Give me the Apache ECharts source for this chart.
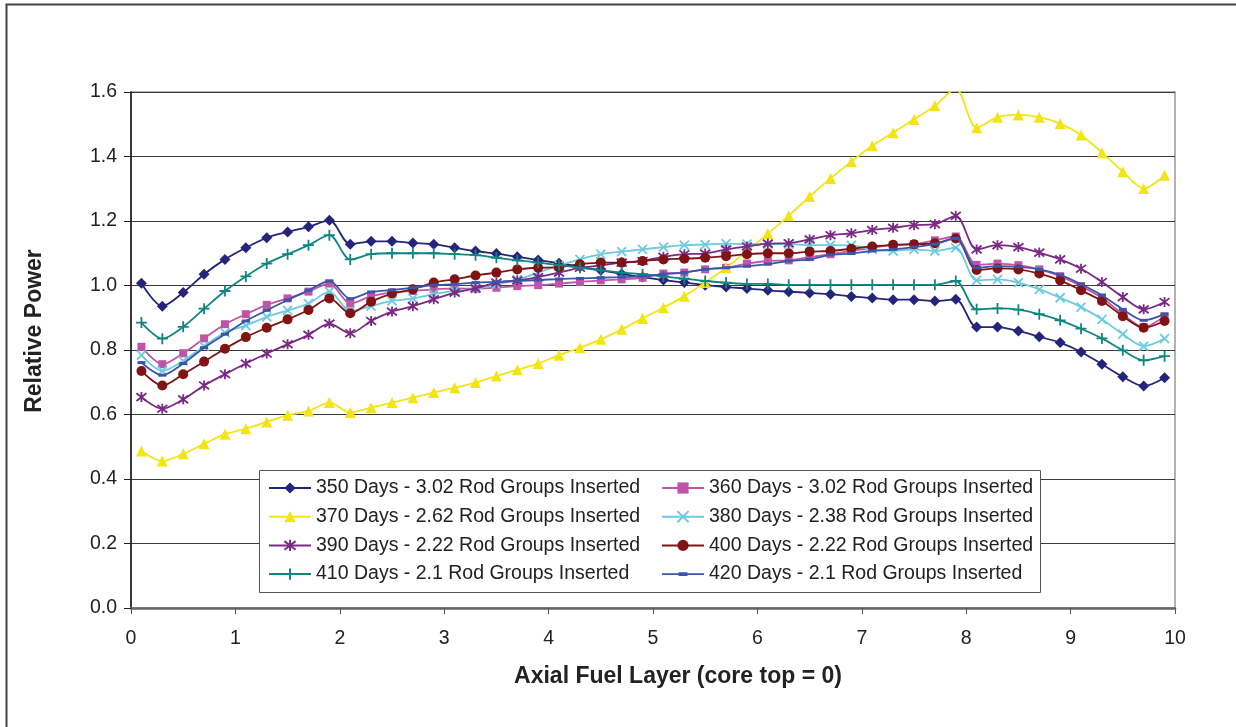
<!DOCTYPE html>
<html>
<head>
<meta charset="utf-8">
<title>Relative Power by Axial Fuel Layer</title>
<script src="https://cdn.jsdelivr.net/npm/echarts/dist/echarts.min.js"></script>
<style>
  html, body { margin: 0; padding: 0; background: #ffffff; }
  #chart { width: 1236px; height: 727px; }
</style>
</head>
<body>
<div id="chart"></div>
<script>
// Axial fuel layer centres (core top = 0)
const layers = [
  0.1, 0.3, 0.5, 0.7, 0.9, 1.1, 1.3, 1.5, 1.7, 1.9,
  2.1, 2.3, 2.5, 2.7, 2.9, 3.1, 3.3, 3.5, 3.7, 3.9,
  4.1, 4.3, 4.5, 4.7, 4.9, 5.1, 5.3, 5.5, 5.7, 5.9,
  6.1, 6.3, 6.5, 6.7, 6.9, 7.1, 7.3, 7.5, 7.7, 7.9,
  8.1, 8.3, 8.5, 8.7, 8.9, 9.1, 9.3, 9.5, 9.7, 9.9
];

// Relative power per layer for each burnup state
const days350 = [
  1.007, 0.936, 0.978, 1.035, 1.081, 1.117, 1.148, 1.166, 1.182, 1.202,
  1.128, 1.137, 1.137, 1.132, 1.128, 1.117, 1.107, 1.099, 1.089, 1.079,
  1.069, 1.058, 1.047, 1.036, 1.026, 1.017, 1.009, 1.001, 0.995, 0.991,
  0.985, 0.981, 0.977, 0.973, 0.966, 0.961, 0.956, 0.956, 0.952, 0.957,
  0.871, 0.871, 0.859, 0.841, 0.823, 0.794, 0.756, 0.717, 0.688, 0.714
];
const days360 = [
  0.810, 0.756, 0.790, 0.836, 0.880, 0.911, 0.940, 0.960, 0.981, 1.006,
  0.944, 0.967, 0.978, 0.983, 0.988, 0.991, 0.990, 0.993, 0.998, 1.001,
  1.006, 1.011, 1.016, 1.019, 1.024, 1.037, 1.040, 1.050, 1.055, 1.068,
  1.076, 1.078, 1.088, 1.097, 1.107, 1.117, 1.125, 1.128, 1.140, 1.152,
  1.064, 1.068, 1.063, 1.050, 1.029, 0.998, 0.962, 0.911, 0.871, 0.905
];
const days370 = [
  0.487, 0.456, 0.478, 0.509, 0.539, 0.556, 0.577, 0.598, 0.611, 0.637,
  0.606, 0.621, 0.637, 0.652, 0.668, 0.683, 0.699, 0.719, 0.739, 0.758,
  0.784, 0.807, 0.833, 0.864, 0.898, 0.931, 0.967, 1.009, 1.055, 1.107,
  1.161, 1.216, 1.276, 1.332, 1.384, 1.433, 1.474, 1.515, 1.557, 1.610,
  1.489, 1.522, 1.529, 1.522, 1.502, 1.467, 1.412, 1.353, 1.301, 1.342
];
const days380 = [
  0.784, 0.735, 0.766, 0.812, 0.854, 0.876, 0.903, 0.923, 0.944, 0.981,
  0.921, 0.936, 0.952, 0.960, 0.973, 0.983, 0.990, 1.003, 1.018, 1.040,
  1.062, 1.081, 1.097, 1.105, 1.112, 1.119, 1.125, 1.127, 1.130, 1.128,
  1.128, 1.128, 1.125, 1.125, 1.124, 1.112, 1.107, 1.112, 1.107, 1.117,
  1.016, 1.019, 1.009, 0.988, 0.962, 0.933, 0.895, 0.849, 0.812, 0.835
];
const days390 = [
  0.654, 0.618, 0.647, 0.690, 0.725, 0.758, 0.789, 0.818, 0.847, 0.882,
  0.852, 0.890, 0.919, 0.936, 0.957, 0.978, 0.991, 1.009, 1.016, 1.026,
  1.040, 1.055, 1.062, 1.071, 1.076, 1.089, 1.097, 1.099, 1.112, 1.121,
  1.130, 1.131, 1.143, 1.156, 1.162, 1.172, 1.179, 1.187, 1.190, 1.216,
  1.112, 1.125, 1.119, 1.102, 1.081, 1.052, 1.011, 0.964, 0.926, 0.949
];
const days400 = [
  0.735, 0.690, 0.725, 0.764, 0.804, 0.840, 0.869, 0.895, 0.924, 0.960,
  0.914, 0.950, 0.975, 0.988, 1.009, 1.019, 1.031, 1.040, 1.050, 1.055,
  1.057, 1.066, 1.071, 1.071, 1.076, 1.081, 1.083, 1.086, 1.091, 1.097,
  1.100, 1.100, 1.105, 1.107, 1.114, 1.121, 1.126, 1.128, 1.131, 1.146,
  1.048, 1.053, 1.050, 1.037, 1.016, 0.985, 0.952, 0.905, 0.869, 0.890
];
const days410 = [
  0.885, 0.835, 0.872, 0.928, 0.983, 1.028, 1.068, 1.097, 1.125, 1.156,
  1.081, 1.097, 1.100, 1.100, 1.100, 1.097, 1.094, 1.086, 1.078, 1.071,
  1.063, 1.055, 1.047, 1.040, 1.035, 1.028, 1.021, 1.014, 1.009, 1.005,
  1.005, 1.002, 1.002, 1.002, 1.002, 1.002, 1.002, 1.002, 1.002, 1.014,
  0.926, 0.929, 0.925, 0.911, 0.892, 0.866, 0.836, 0.799, 0.768, 0.781
];
const days420 = [
  0.761, 0.722, 0.758, 0.807, 0.849, 0.890, 0.923, 0.955, 0.985, 1.014,
  0.959, 0.980, 0.986, 0.993, 1.001, 1.004, 1.009, 1.011, 1.014, 1.017,
  1.020, 1.022, 1.024, 1.026, 1.029, 1.035, 1.040, 1.050, 1.055, 1.060,
  1.066, 1.076, 1.081, 1.095, 1.099, 1.107, 1.112, 1.119, 1.128, 1.146,
  1.055, 1.060, 1.058, 1.050, 1.033, 1.004, 0.970, 0.926, 0.892, 0.911
];

const seriesNames = [
  '350 Days - 3.02 Rod Groups Inserted',
  '360 Days - 3.02 Rod Groups Inserted',
  '370 Days - 2.62 Rod Groups Inserted',
  '380 Days - 2.38 Rod Groups Inserted',
  '390 Days - 2.22 Rod Groups Inserted',
  '400 Days - 2.22 Rod Groups Inserted',
  '410 Days - 2.1 Rod Groups Inserted',
  '420 Days - 2.1 Rod Groups Inserted'
];
const seriesValues = [days350, days360, days370, days380, days390, days400, days410, days420];

const xTicks = [0, 1, 2, 3, 4, 5, 6, 7, 8, 9, 10];
const yTicks = [0.0, 0.2, 0.4, 0.6, 0.8, 1.0, 1.2, 1.4, 1.6];

// Marker styling for each series
const PATH_X = 'path://M0,0L10,10M10,0L0,10';
const PATH_STAR = 'path://M0,0L10,10M10,0L0,10M5,-1.5L5,11.5';
const PATH_PLUS = 'path://M5,0L5,10M0,5L10,5';
const PATH_DASH = 'path://M0,0H10V4H0Z';
// Legend key for the dash marker: thin line with a short bar, drawn in a 42x14 box
const LEGEND_DASH = 'path://M0,0L0,0M0,14L0,14M0,6.1H42V7.9H0ZM16.5,5.2H25.5V8.8H16.5Z';

const styles = [
  { color: '#24247a', symbol: 'diamond', size: 11, stroke: false },
  { color: '#c055a8', symbol: 'rect', size: 8, stroke: false },
  { color: '#f3e414', symbol: 'triangle', size: 11, stroke: false },
  { color: '#6ccbde', symbol: PATH_X, size: 9, stroke: true },
  { color: '#7a2a84', symbol: PATH_STAR, size: 10, stroke: true },
  { color: '#801414', symbol: 'circle', size: 10, stroke: false },
  { color: '#0f8581', symbol: PATH_PLUS, size: 11, stroke: true },
  { color: '#3a55aa', symbol: PATH_DASH, size: [8, 3], stroke: false }
];

const FONT = '"Liberation Sans", Arial, Helvetica, sans-serif';

const series = seriesNames.map((name, i) => {
  const st = styles[i];
  return {
    name: name,
    type: 'line',
    data: layers.map((x, k) => [x, seriesValues[i][k]]),
    smooth: 0.3,
    symbol: st.symbol,
    symbolSize: st.size,
    showAllSymbol: true,
    clip: true,
    lineStyle: { color: st.color, width: 1.8 },
    itemStyle: {
      color: st.color,
      borderColor: st.color,
      borderWidth: st.stroke ? 1.8 : 0
    },
    emphasis: { disabled: true },
    z: 2 + i * 0.01
  };
});

const legendCommon = {
  orient: 'vertical',
  padding: 0,
  itemWidth: 42,
  itemHeight: 14,
  itemGap: 8.7,
  selectedMode: false,
  z: 10,
  textStyle: { fontFamily: FONT, fontSize: 19.5, color: '#222', lineHeight: 20 }
};

const chart = echarts.init(document.getElementById('chart'), null, { renderer: 'canvas' });

chart.setOption({
  animation: false,
  backgroundColor: '#ffffff',
  grid: {
    left: 131, right: 61, top: 92, bottom: 119,
    show: true, borderColor: '#9a9a9a', borderWidth: 1.5, backgroundColor: 'transparent'
  },
  xAxis: {
    type: 'value',
    min: xTicks[0], max: xTicks[xTicks.length - 1], interval: 1,
    axisLine: { show: true, onZero: false, lineStyle: { color: '#666', width: 2.5 } },
    axisTick: { show: true, inside: false, length: 6, lineStyle: { color: '#555', width: 1 } },
    axisLabel: { margin: 21, fontFamily: FONT, fontSize: 19.5, color: '#222',
      formatter: v => String(v) },
    splitLine: { show: false }
  },
  yAxis: {
    type: 'value',
    min: yTicks[0], max: yTicks[yTicks.length - 1], interval: 0.2,
    axisLine: { show: true, lineStyle: { color: '#111', width: 1.5 } },
    axisTick: { show: true, inside: false, length: 7, lineStyle: { color: '#222', width: 1 } },
    axisLabel: { margin: 14, fontFamily: FONT, fontSize: 19.5, color: '#222',
      formatter: v => v.toFixed(1) },
    splitLine: { show: true, lineStyle: { color: '#3a3a3a', width: 1 } }
  },
  legend: [
    Object.assign({}, legendCommon, {
      left: 268, top: 478,
      data: [seriesNames[0], seriesNames[2], seriesNames[4], seriesNames[6]]
    }),
    Object.assign({}, legendCommon, {
      left: 661, top: 478,
      data: [seriesNames[1], seriesNames[3], seriesNames[5],
        { name: seriesNames[7], icon: LEGEND_DASH }]
    })
  ],
  graphic: [
    {
      type: 'rect', z: 0,
      shape: { x: 6.5, y: 4.5, width: 1300, height: 1300 },
      style: { fill: 'none', stroke: '#444', lineWidth: 2 },
      silent: true
    },
    {
      type: 'rect', z: 3,
      shape: { x: 259.5, y: 470.5, width: 781, height: 122 },
      style: { fill: '#ffffff', stroke: '#555', lineWidth: 1 },
      silent: true
    },
    {
      type: 'text', z: 5,
      x: 678, y: 677,
      style: {
        text: 'Axial Fuel Layer (core top = 0)',
        align: 'center', verticalAlign: 'middle',
        font: 'bold 23px ' + FONT, fill: '#222'
      },
      silent: true
    },
    {
      type: 'text', z: 5,
      x: 35, y: 331, rotation: Math.PI / 2,
      style: {
        text: 'Relative Power',
        align: 'center', verticalAlign: 'middle',
        font: 'bold 23px ' + FONT, fill: '#222'
      },
      silent: true
    }
  ],
  series: series
});
</script>
</body>
</html>
